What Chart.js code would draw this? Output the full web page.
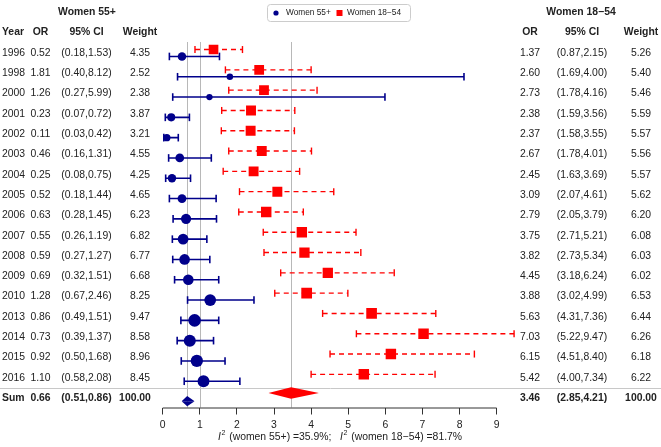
<!DOCTYPE html>
<html>
<head>
<meta charset="utf-8">
<script src="https://cdn.jsdelivr.net/npm/chart.js"></script>
<style>
  html, body { margin: 0; padding: 0; background: #fff; }
</style>
</head>
<body>
<canvas id="forest" width="661" height="447"></canvas>
<script>
'use strict'

// ---- data ----
var years = ['1996', '1998', '2000', '2001', '2002', '2003', '2004', '2005', '2006',
    '2007', '2008', '2009', '2010', '2013', '2014', '2015', '2016']

// Women 55+
var orOld = [0.52, 1.81, 1.26, 0.23, 0.11, 0.46, 0.25, 0.52, 0.63, 0.55, 0.59, 0.69, 1.28, 0.86, 0.73, 0.92, 1.10]
var loOld = [0.18, 0.40, 0.27, 0.07, 0.03, 0.16, 0.08, 0.18, 0.28, 0.26, 0.27, 0.32, 0.67, 0.49, 0.39, 0.50, 0.58]
var hiOld = [1.53, 8.12, 5.99, 0.72, 0.42, 1.31, 0.75, 1.44, 1.45, 1.19, 1.27, 1.51, 2.46, 1.51, 1.37, 1.68, 2.08]
var wOld = [4.35, 2.52, 2.38, 3.87, 3.21, 4.55, 4.25, 4.65, 6.23, 6.82, 6.77, 6.68, 8.25, 9.47, 8.58, 8.96, 8.45]

// Women 18-54
var orYoung = [1.37, 2.60, 2.73, 2.38, 2.37, 2.67, 2.45, 3.09, 2.79, 3.75, 3.82, 4.45, 3.88, 5.63, 7.03, 6.15, 5.42]
var loYoung = [0.87, 1.69, 1.78, 1.59, 1.58, 1.78, 1.63, 2.07, 2.05, 2.71, 2.73, 3.18, 3.02, 4.31, 5.22, 4.51, 4.00]
var hiYoung = [2.15, 4.00, 4.16, 3.56, 3.55, 4.01, 3.69, 4.61, 3.79, 5.21, 5.34, 6.24, 4.99, 7.36, 9.47, 8.40, 7.34]
var wYoung = [5.26, 5.40, 5.46, 5.59, 5.57, 5.56, 5.57, 5.62, 6.20, 6.08, 6.03, 6.02, 6.53, 6.44, 6.26, 6.18, 6.22]

// pooled: [OR, lower, upper, weight]
var sumOld = [0.66, 0.51, 0.86, 100.00]
var sumYoung = [3.46, 2.85, 4.21, 100.00]

var i2Old = 35.9
var i2Young = 81.7

var xTicks = [0, 1, 2, 3, 4, 5, 6, 7, 8, 9]

// ---- style ----
var BLUE = '#00008b'
var RED = '#ff0000'
var TXT = '#222222'
var FONT = '"Liberation Sans", Arial, sans-serif'
var SUM_ROW = years.length

function ciPoints(lo, hi, dy) {
    var pts = []
    for (var i = 0; i < lo.length; i++) {
        pts.push({x: lo[i], y: i + dy}, {x: hi[i], y: i + dy}, {x: null, y: null})
    }
    return pts
}

function halfDiamond(s, row, h) {
    return [{x: s[1], y: row}, {x: s[0], y: row + h}, {x: s[2], y: row}]
}

var fmt = function (v) { return v.toFixed(2) }

// table, legend, reference lines and footnote
var forestPlugin = {
    id: 'forestTable',
    beforeDatasetsDraw: function (chart) {
        var ctx = chart.ctx
        var xs = chart.scales.x
        var ys = chart.scales.y
        var area = chart.chartArea
        ctx.save()
        ctx.strokeStyle = '#b8b8b8'
        ctx.lineWidth = 1
        var refs = [sumOld[0], 1, sumYoung[0]]
        refs.forEach(function (v) {
            var px = Math.round(xs.getPixelForValue(v)) + 0.5
            ctx.beginPath()
            ctx.moveTo(px, area.top)
            ctx.lineTo(px, area.bottom)
            ctx.stroke()
        })
        // separator above the pooled row
        var sy = Math.round(ys.getPixelForValue(SUM_ROW - 0.5)) + 0.5
        ctx.strokeStyle = '#c8c8c8'
        ctx.beginPath()
        ctx.moveTo(0, sy)
        ctx.lineTo(chart.width, sy)
        ctx.stroke()
        ctx.restore()
    },
    afterDraw: function (chart) {
        var ctx = chart.ctx
        var xs = chart.scales.x
        var ys = chart.scales.y
        var area = chart.chartArea
        ctx.save()

        // axis line from first to last tick
        ctx.strokeStyle = '#333'
        ctx.lineWidth = 1
        ctx.beginPath()
        ctx.moveTo(xs.getPixelForValue(xTicks[0]), area.bottom + 0.5)
        ctx.lineTo(xs.getPixelForValue(xTicks[xTicks.length - 1]), area.bottom + 0.5)
        ctx.stroke()

        ctx.fillStyle = TXT
        ctx.textBaseline = 'middle'

        function put(txt, x, y, align, bold) {
            ctx.font = (bold ? 'bold ' : '') + '10.4px ' + FONT
            ctx.textAlign = align
            ctx.fillText(txt, x, y)
        }

        // headers
        put('Women 55+', 87, 12, 'center', true)
        put('Women 18\u221254', 581, 12, 'center', true)
        var hy = 32
        put('Year', 2, hy, 'left', true)
        put('OR', 40.5, hy, 'center', true)
        put('95% CI', 86.5, hy, 'center', true)
        put('Weight', 140, hy, 'center', true)
        put('OR', 530, hy, 'center', true)
        put('95% CI', 582, hy, 'center', true)
        put('Weight', 641, hy, 'center', true)

        for (var i = 0; i < years.length; i++) {
            var y = ys.getPixelForValue(i)
            put(years[i], 2, y, 'left', false)
            put(fmt(orOld[i]), 40.5, y, 'center', false)
            put('(' + fmt(loOld[i]) + ',' + fmt(hiOld[i]) + ')', 86.5, y, 'center', false)
            put(fmt(wOld[i]), 140, y, 'center', false)
            put(fmt(orYoung[i]), 530, y, 'center', false)
            put('(' + fmt(loYoung[i]) + ',' + fmt(hiYoung[i]) + ')', 582, y, 'center', false)
            put(fmt(wYoung[i]), 641, y, 'center', false)
        }
        var sy = ys.getPixelForValue(SUM_ROW)
        put('Sum', 2, sy, 'left', true)
        put(fmt(sumOld[0]), 40.5, sy, 'center', true)
        put('(' + fmt(sumOld[1]) + ',' + fmt(sumOld[2]) + ')', 86.5, sy, 'center', true)
        put(fmt(sumOld[3]), 135, sy, 'center', true)
        put(fmt(sumYoung[0]), 530, sy, 'center', true)
        put('(' + fmt(sumYoung[1]) + ',' + fmt(sumYoung[2]) + ')', 582, sy, 'center', true)
        put(fmt(sumYoung[3]), 641, sy, 'center', true)

        // footnote with I^2
        function i2(label, val, x0, y0) {
            ctx.textAlign = 'left'
            ctx.font = 'italic 10.4px ' + FONT
            ctx.fillText('I', x0, y0)
            var x = x0 + ctx.measureText('I').width + 0.5
            ctx.font = '7px ' + FONT
            ctx.fillText('2', x, y0 - 4)
            x += ctx.measureText('2').width + 1
            ctx.font = '10.4px ' + FONT
            ctx.fillText(' (' + label + ') =' + val.toFixed(1) + '%', x, y0)
            return x + ctx.measureText(' (' + label + ') =' + val.toFixed(1) + '%').width
        }
        var fy = 437
        var ex = i2('women 55+', i2Old, 218, fy)
        ctx.font = '10.4px ' + FONT
        ctx.fillText(';', ex, fy)
        i2('women 18\u221254', i2Young, 340, fy)

        // legend
        var lx = 267.5, ly = 4.5, lw = 143, lh = 17
        ctx.strokeStyle = '#cccccc'
        ctx.lineWidth = 1
        ctx.beginPath()
        ctx.roundRect(lx, ly, lw, lh, 3)
        ctx.stroke()
        var cy = ly + lh / 2
        ctx.fillStyle = chart.data.datasets[0].backgroundColor
        ctx.beginPath()
        ctx.arc(276, cy, 2.6, 0, Math.PI * 2)
        ctx.fill()
        ctx.fillStyle = chart.data.datasets[1].backgroundColor
        ctx.fillRect(336.5, cy - 3, 6, 6)
        ctx.fillStyle = TXT
        ctx.font = '8.3px ' + FONT
        ctx.textAlign = 'left'
        ctx.fillText(chart.data.datasets[0].label, 286, cy)
        ctx.fillText(chart.data.datasets[1].label, 347, cy)

        ctx.restore()
    }
}

var ctx = document.getElementById('forest').getContext('2d')

new Chart(ctx, {
    type: 'scatter',
    data: {
        datasets: [{
            label: 'Women 55+',
            data: orOld.map(function (v, i) { return {x: v, y: i + 0.17} }),
            backgroundColor: BLUE,
            borderWidth: 0,
            pointStyle: 'circle',
            pointRadius: function (c) { return 2.05 * Math.sqrt(wOld[c.dataIndex]) }
        }, {
            label: 'Women 18\u221254',
            data: orYoung.map(function (v, i) { return {x: v, y: i - 0.17} }),
            backgroundColor: RED,
            borderWidth: 0,
            pointStyle: 'rect',
            pointRadius: function (c) { return 4.2 * Math.sqrt(wYoung[c.dataIndex]) / Math.SQRT2 }
        }, {
            type: 'line',
            label: 'ci55',
            data: ciPoints(loOld, hiOld, 0.17),
            borderColor: BLUE,
            borderWidth: 1.6,
            pointStyle: 'line',
            pointRotation: 90,
            pointRadius: 3.8,
            pointBorderColor: BLUE,
            pointBorderWidth: 1.6,
            spanGaps: false,
            clip: false
        }, {
            type: 'line',
            label: 'ci1854',
            data: ciPoints(loYoung, hiYoung, -0.17),
            borderColor: RED,
            borderWidth: 1.4,
            borderDash: [5, 4],
            pointStyle: 'line',
            pointRotation: 90,
            pointRadius: 3.5,
            pointBorderColor: RED,
            pointBorderWidth: 1.4,
            spanGaps: false,
            clip: false
        }, {
            type: 'line',
            label: 'sum55a',
            data: halfDiamond(sumOld, SUM_ROW + 0.15, -0.25),
            backgroundColor: BLUE,
            borderWidth: 0,
            pointRadius: 0,
            fill: {value: SUM_ROW + 0.15}
        }, {
            type: 'line',
            label: 'sum55b',
            data: halfDiamond(sumOld, SUM_ROW + 0.15, 0.25),
            backgroundColor: BLUE,
            borderWidth: 0,
            pointRadius: 0,
            fill: {value: SUM_ROW + 0.15}
        }, {
            type: 'line',
            label: 'sum1854a',
            data: halfDiamond(sumYoung, SUM_ROW - 0.25, -0.28),
            backgroundColor: RED,
            borderWidth: 0,
            pointRadius: 0,
            fill: {value: SUM_ROW - 0.25}
        }, {
            type: 'line',
            label: 'sum1854b',
            data: halfDiamond(sumYoung, SUM_ROW - 0.25, 0.28),
            backgroundColor: RED,
            borderWidth: 0,
            pointRadius: 0,
            fill: {value: SUM_ROW - 0.25}
        }]
    },
    options: {
        responsive: false,
        animation: false,
        events: [],
        layout: {
            padding: {left: 162.7, right: 142.1, top: 42, bottom: 0}
        },
        plugins: {
            legend: {display: false},
            tooltip: {enabled: false}
        },
        scales: {
            x: {
                type: 'linear',
                min: 0,
                max: 9.6,
                afterBuildTicks: function (scale) {
                    scale.ticks = xTicks.map(function (v) { return {value: v} })
                },
                afterFit: function (scale) {
                    scale.height = 39.5
                },
                border: {display: false},
                grid: {
                    drawOnChartArea: false,
                    drawTicks: true,
                    tickLength: 7,
                    color: '#333'
                },
                ticks: {
                    color: TXT,
                    padding: 4,
                    maxRotation: 0,
                    font: {family: FONT, size: 10.4}
                }
            },
            y: {
                type: 'linear',
                reverse: true,
                min: -0.542,
                max: 17.463,
                display: false
            }
        }
    },
    plugins: [forestPlugin]
})
</script>
</body>
</html>
